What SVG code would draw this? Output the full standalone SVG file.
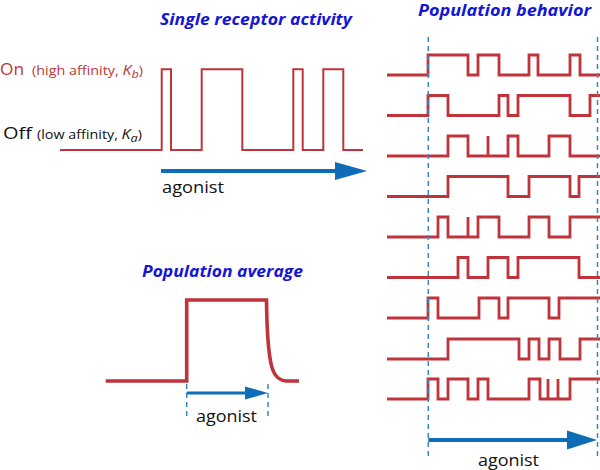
<svg xmlns="http://www.w3.org/2000/svg" width="600" height="470" viewBox="0 0 600 470">
<style>
.title{font-family:"Open Sans","Liberation Sans",sans-serif;font-weight:bold;font-style:italic;font-size:16px;fill:#1515d6}
.lbl{font-family:"Open Sans","Liberation Sans",sans-serif;font-size:16px;fill:#111}
.sm{font-family:"Open Sans","Liberation Sans",sans-serif;font-size:12.5px}
.red{fill:#c0333a}
.trace{fill:none;stroke:#c0333a;stroke-width:2.8;stroke-linejoin:miter;stroke-linecap:butt}
.thin{fill:none;stroke:#c0333a;stroke-width:2}
.thick{fill:none;stroke:#c0333a;stroke-width:3.6}
.shaft{stroke:#0f6cb6;fill:none}
.head{fill:#0f6cb6}
.dash{stroke:#3a86c0;stroke-width:1.5;stroke-dasharray:5 4;fill:none}
</style>

<g id="single-receptor">
<text class="title" x="160" y="25" textLength="192" lengthAdjust="spacingAndGlyphs">Single receptor activity</text>
<text class="lbl red" x="0" y="75" font-size="17" textLength="24" lengthAdjust="spacingAndGlyphs">On</text>
<text class="sm red" x="32" y="75" textLength="111" lengthAdjust="spacingAndGlyphs">(high affinity, <tspan font-style="italic" font-size="14">K</tspan><tspan font-style="italic" font-size="11" dy="3">b</tspan><tspan dy="-3">)</tspan></text>
<text class="lbl" x="3" y="138.5" font-size="17" textLength="29" lengthAdjust="spacingAndGlyphs">Off</text>
<text class="sm" x="37" y="138.5" fill="#111" textLength="105" lengthAdjust="spacingAndGlyphs">(low affinity, <tspan font-style="italic" font-size="14">K</tspan><tspan font-style="italic" font-size="11" dy="3">a</tspan><tspan dy="-3">)</tspan></text>
<path class="thin" d="M60,150 H161.7 V69.3 H171 V150 H201.7 V69.3 H242.3 V150 H293.3 V69.3 H302.7 V150 H323.3 V69.3 H343.3 V150 H363"/>
<text class="lbl" x="162" y="193" textLength="62" lengthAdjust="spacingAndGlyphs">agonist</text>
</g>

<g id="population-average">
<text class="title" x="142" y="277" textLength="161" lengthAdjust="spacingAndGlyphs">Population average</text>
<path class="thick" d="M105.7,381 H186.7 V300 H266.5 C266.8,320 267,340 270,358 C272,372 276,380 286,381 H299"/>
<text class="lbl" x="196" y="422" textLength="61" lengthAdjust="spacingAndGlyphs">agonist</text>
</g>

<g id="population-behavior">
<text class="title" x="418" y="16" textLength="173" lengthAdjust="spacingAndGlyphs">Population behavior</text>
<path class="trace" d="M387,75 H428 V55 H468 V75 H478 V55 H499 V75 H529 V55 H538 V75 H570 V55 H580 V75 H600"/>
<path class="trace" d="M387,115.5 H428 V95.5 H448 V115.5 H499 V95.5 H508 V115.5 H518 V95.5 H570 V115.5 H590 V95.5 H600"/>
<path class="trace" d="M387,156 H448 V136 H468 V156 H488 V136 V156 H508 V136 H518 V156 H549 V136 H570 V156 H600"/>
<path class="trace" d="M387,196.5 H448 V176.5 H508 V196.5 H529 V176.5 H570 V196.5 H579 V176.5 H600"/>
<path class="trace" d="M387,237 H438 V217 H448 V237 H468 V217 V237 H478 V217 H499 V237 H529 V217 H549 V237 H570 V217 H600"/>
<path class="trace" d="M387,277.5 H458 V257.5 H468 V277.5 H488 V257.5 H508 V277.5 H518 V257.5 H579 V277.5 H600"/>
<path class="trace" d="M387,318 H428 V298 H438 V318 H479 V298 H499 V318 H508 V298 H549 V318 H559 V298 H600"/>
<path class="trace" d="M387,359 H448 V339 H519 V359 H529 V339 H539 V359 H549 V339 H560 V359 H580 V339 H600"/>
<path class="trace" d="M387,399 H428 V379 H438 V399 H448 V379 H468 V399 H478 V379 H488 V399 H529 V379 H540 V399 H548 V379 V399 H558 V379 V399 H570 V379 H600"/>
<text class="lbl" x="478" y="466" textLength="61" lengthAdjust="spacingAndGlyphs">agonist</text>
</g>

<g id="connectors">
<line class="dash" x1="428.3" y1="37" x2="428.3" y2="460"/>
<line class="dash" x1="597.5" y1="37" x2="597.5" y2="460"/>
<line class="dash" x1="186.7" y1="384" x2="186.7" y2="416" stroke-dasharray="4 3"/>
<line class="dash" x1="268" y1="384" x2="268" y2="416" stroke-dasharray="4 3"/>
<line class="shaft" x1="161" y1="171" x2="337" y2="171" stroke-width="4"/>
<polygon class="head" points="335,162 367,171 335,180"/>
<line class="shaft" x1="186.7" y1="393" x2="247" y2="393" stroke-width="3"/>
<polygon class="head" points="245,386.5 268,393 245,399.5"/>
<line class="shaft" x1="428.3" y1="440" x2="569" y2="440" stroke-width="4"/>
<polygon class="head" points="567,430.5 597,440 567,449.5"/>
</g>
</svg>
